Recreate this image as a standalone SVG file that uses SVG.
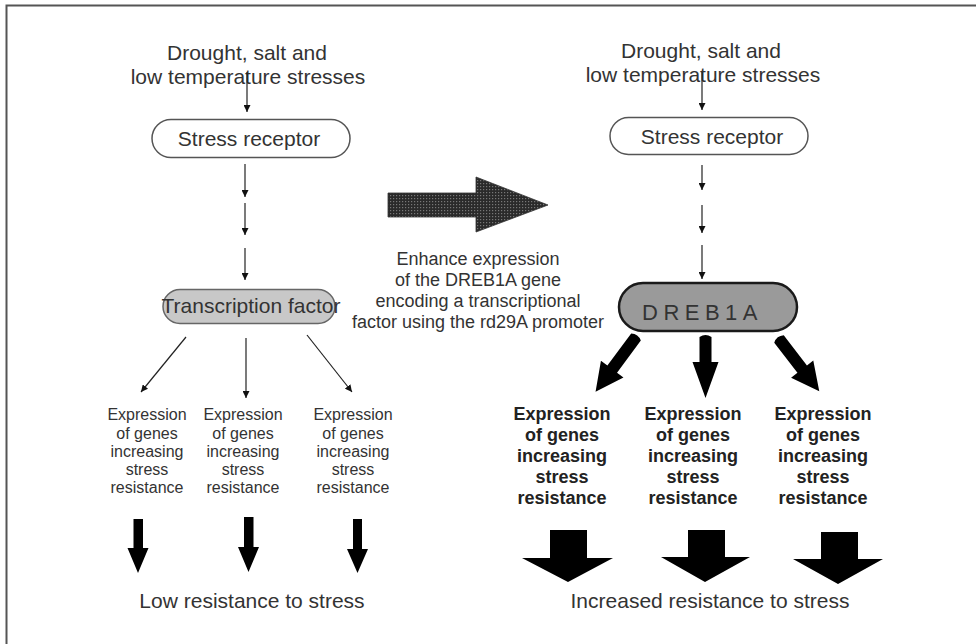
<svg xmlns="http://www.w3.org/2000/svg" width="976" height="644" viewBox="0 0 976 644">
  <defs>
    <style>
      text { font-family: "Liberation Sans", Arial, sans-serif; fill: #333; }
      .lg { font-size: 21px; text-anchor: middle; }
      .md { font-size: 18px; text-anchor: middle; }
      .sm { font-size: 16px; text-anchor: middle; }
      .bd { font-size: 18px; font-weight: bold; text-anchor: middle; fill: #222; }
      .thin { stroke: #222; stroke-width: 1.2; fill: none; marker-end: url(#tip); }
      .pill { fill: #fff; stroke: #555; stroke-width: 1.5; }
      .solid { fill: #000; }
    </style>
    <marker id="tip" viewBox="0 0 10 10" refX="10" refY="5" markerWidth="7" markerHeight="7" markerUnits="userSpaceOnUse" orient="auto">
      <path d="M0,0 L10,5 L0,10 Z" fill="#111"/>
    </marker>
    <pattern id="dots" width="3" height="3" patternUnits="userSpaceOnUse">
      <rect width="3" height="3" fill="#2a2a2a"/>
      <rect x="0" y="0" width="1.2" height="1.2" fill="#777"/>
    </pattern>
  </defs>

  <!-- frame -->
  <path d="M6.5,644 V5.5 H976" fill="none" stroke="#555" stroke-width="2"/>

  <!-- left pathway -->
  <g id="left-stress">
    <text class="lg" x="247" y="60">Drought, salt and</text>
    <text class="lg" x="248" y="84">low temperature stresses</text>
  </g>
  <g id="left-receptor">
    <rect class="pill" x="152" y="119.5" width="198" height="38" rx="19"/>
    <text class="lg" x="249" y="146">Stress receptor</text>
  </g>
  <g id="left-tf">
    <rect x="163" y="289.5" width="172" height="34" rx="17" fill="#c8c8c8" stroke="#666" stroke-width="1.5"/>
    <text class="lg" x="251" y="313">Transcription factor</text>
  </g>
  <g id="left-genes-1">
    <text class="sm" x="147" y="420">Expression</text>
    <text class="sm" x="147" y="438.5">of genes</text>
    <text class="sm" x="147" y="457">increasing</text>
    <text class="sm" x="147" y="475">stress</text>
    <text class="sm" x="147" y="493">resistance</text>
  </g>
  <g id="left-genes-2">
    <text class="sm" x="243" y="420">Expression</text>
    <text class="sm" x="243" y="438.5">of genes</text>
    <text class="sm" x="243" y="457">increasing</text>
    <text class="sm" x="243" y="475">stress</text>
    <text class="sm" x="243" y="493">resistance</text>
  </g>
  <g id="left-genes-3">
    <text class="sm" x="353" y="420">Expression</text>
    <text class="sm" x="353" y="438.5">of genes</text>
    <text class="sm" x="353" y="457">increasing</text>
    <text class="sm" x="353" y="475">stress</text>
    <text class="sm" x="353" y="493">resistance</text>
  </g>
  <g id="left-result">
    <text class="lg" x="252" y="608">Low resistance to stress</text>
  </g>

  <!-- transition -->
  <g id="transition">
    <path d="M388,193 H476 V177 L548,205 L476,232 V217 H388 Z" fill="url(#dots)" stroke="#333" stroke-width="0.8"/>
    <text class="md" x="478" y="265">Enhance expression</text>
    <text class="md" x="478" y="286">of the DREB1A gene</text>
    <text class="md" x="478" y="307">encoding a transcriptional</text>
    <text class="md" x="478" y="328">factor using the rd29A promoter</text>
  </g>

  <!-- right pathway -->
  <g id="right-stress">
    <text class="lg" x="701" y="58">Drought, salt and</text>
    <text class="lg" x="703" y="82">low temperature stresses</text>
  </g>
  <g id="right-receptor">
    <rect class="pill" x="610" y="117.5" width="198" height="37" rx="18.5"/>
    <text class="lg" x="712" y="144">Stress receptor</text>
  </g>
  <g id="right-dreb1a">
    <rect x="619" y="283" width="178" height="48" rx="24" fill="#9a9a9a" stroke="#1a1a1a" stroke-width="2.5"/>
    <text x="642" y="320" font-size="22" letter-spacing="5.5" fill="#1a1a1a">DREB1A</text>
  </g>
  <g id="right-genes-1">
    <text class="bd" x="562" y="420">Expression</text>
    <text class="bd" x="562" y="441">of genes</text>
    <text class="bd" x="562" y="462">increasing</text>
    <text class="bd" x="562" y="483">stress</text>
    <text class="bd" x="562" y="504">resistance</text>
  </g>
  <g id="right-genes-2">
    <text class="bd" x="693" y="420">Expression</text>
    <text class="bd" x="693" y="441">of genes</text>
    <text class="bd" x="693" y="462">increasing</text>
    <text class="bd" x="693" y="483">stress</text>
    <text class="bd" x="693" y="504">resistance</text>
  </g>
  <g id="right-genes-3">
    <text class="bd" x="823" y="420">Expression</text>
    <text class="bd" x="823" y="441">of genes</text>
    <text class="bd" x="823" y="462">increasing</text>
    <text class="bd" x="823" y="483">stress</text>
    <text class="bd" x="823" y="504">resistance</text>
  </g>
  <g id="right-result">
    <text class="lg" x="710" y="608">Increased resistance to stress</text>
  </g>

  <!-- connectors -->
  <g id="connectors">
    <!-- left chain -->
    <line class="thin" x1="247" y1="72" x2="247" y2="112"/>
    <line class="thin" x1="245" y1="164" x2="245" y2="197"/>
    <line class="thin" x1="245" y1="203" x2="245" y2="235"/>
    <line class="thin" x1="245" y1="248" x2="245" y2="280"/>
    <line class="thin" x1="186" y1="337" x2="141" y2="392"/>
    <line class="thin" x1="246" y1="338" x2="246" y2="398"/>
    <line class="thin" x1="307" y1="335" x2="352" y2="392"/>
    <!-- left result arrows -->
    <path class="solid" d="M133.5,519 H143 V548 H148.5 L138,573 L127.5,548 H133.5 Z"/>
    <path class="solid" d="M244,517 H253.5 V547 H259 L248.5,572 L238,547 H244 Z"/>
    <path class="solid" d="M353,519 H362 V549 H368 L357.5,573 L347,549 H353 Z"/>

    <!-- right chain -->
    <line class="thin" x1="702" y1="72" x2="702" y2="110"/>
    <line class="thin" x1="702" y1="165" x2="702" y2="190"/>
    <line class="thin" x1="702" y1="205" x2="702" y2="233"/>
    <line class="thin" x1="702" y1="245" x2="702" y2="279"/>
    <!-- bold arrows from DREB1A -->
    <path class="solid" transform="translate(636,337) rotate(36.5)" d="M-6,0 Q0,-4 6,0 V40 H14 L0,68 L-14,40 H-6 Z"/>
    <path class="solid" transform="translate(705.5,337)" d="M-6,0 Q0,-4 6,0 V25 H13 L0,61 L-13,25 H-6 Z"/>
    <path class="solid" transform="translate(779,339) rotate(-37.6)" d="M-6,0 Q0,-4 6,0 V38 H14 L0,66 L-14,38 H-6 Z"/>
    <!-- wide result arrows -->
    <path class="solid" d="M550,530 H587 V558 H613 L568,582 L522,558 H550 Z"/>
    <path class="solid" d="M688,530 H725 V557 H750 L705,582 L661,557 H688 Z"/>
    <path class="solid" d="M821,532 H858 V559 H883 L838,584 L793,559 H821 Z"/>
  </g>
</svg>
